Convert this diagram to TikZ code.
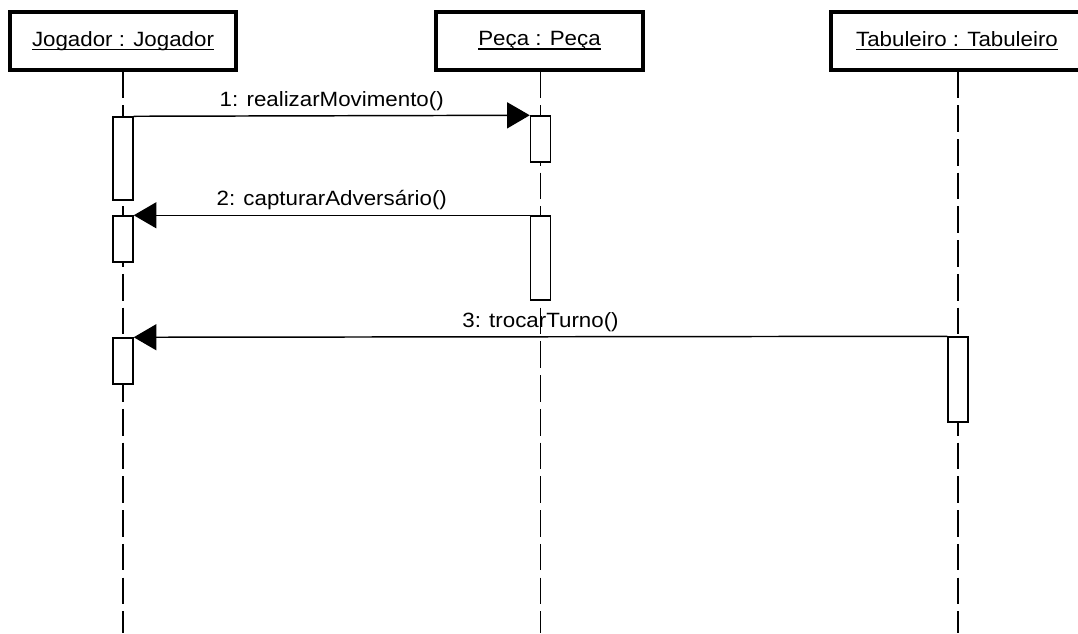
\documentclass[tikz,border=0pt]{standalone}
\usepackage{fontspec}
\newfontfamily\umlfont[FakeStretch=1.08]{Liberation Sans}
\usetikzlibrary{arrows.meta}
% underlined object name: rule a fixed distance below the baseline
\newsavebox{\namebox}
\newcommand{\objname}[1]{\sbox{\namebox}{#1}%
  \usebox{\namebox}\llap{\rule[-2.8pt]{\wd\namebox}{1.1pt}}}
\begin{document}
\begin{tikzpicture}[x=0.75pt,y=-0.75pt,
  every node/.style={font=\umlfont\fontsize{15.5}{18}\selectfont},
  head/.style={draw,line width=2.3pt,fill=white,minimum height=43.5pt,inner sep=0pt},
  actbox/.style={draw,line width=1.1pt,fill=white,minimum width=15pt,inner sep=0pt},
  lifeline/.style={line width=1.1pt,dash pattern=on 20pt off 5.3pt},
  msg/.style={line width=1.1pt,-{Triangle[length=17pt,width=19.5pt]}},
  msglabel/.style={above,inner sep=0pt,yshift=3.5pt}]
\useasboundingbox (0,0) rectangle (1078,633);
\clip (0,0) rectangle (1078,633);
\fill[white] (0,0) rectangle (1078,633);

% object heads
\node[head,minimum width=169.5pt] (jog) at (123,41) {\objname{Jogador : Jogador}};
\node[head,minimum width=155.25pt] (peca) at (539.5,41) {\objname{Peça : Peça}};
\node[head,minimum width=189pt] (tab) at (957,41) {\objname{Tabuleiro : Tabuleiro}};

% lifeline ends
\coordinate (jogEnd) at (123,633);
\coordinate (pecaEnd) at (540.5,633);
\coordinate (tabEnd) at (958,633);

\draw[lifeline] (jog.south) -- (jogEnd);
\draw[lifeline] (peca.south -| pecaEnd) -- (pecaEnd);
\draw[lifeline] (tab.south -| tabEnd) -- (tabEnd);

% activation boxes
\node[actbox,minimum height=62.25pt] (j1) at (123,158.5) {};
\node[actbox,minimum height=34.5pt] (j2) at (123,239) {};
\node[actbox,minimum height=34.5pt] (j3) at (123,361) {};
\node[actbox,minimum height=34.5pt] (p1) at (540.5,139) {};
\node[actbox,minimum height=63pt] (p2) at (540.5,258) {};
\node[actbox,minimum height=63.75pt] (t1) at (958,379.5) {};

% messages
\draw[msg] (j1.north east) -- node[msglabel] {1: realizarMovimento()} (p1.north west);
\draw[msg] (p2.north west) -- node[msglabel] {2: capturarAdversário()} (j2.north east);
\draw[msg] (t1.north west) -- node[msglabel] {3: trocarTurno()} (j3.north east);

% lifeline drawn across the third label
\draw[line width=1.1pt] (540.5,317) -- (540.5,330);
\end{tikzpicture}
\end{document}
